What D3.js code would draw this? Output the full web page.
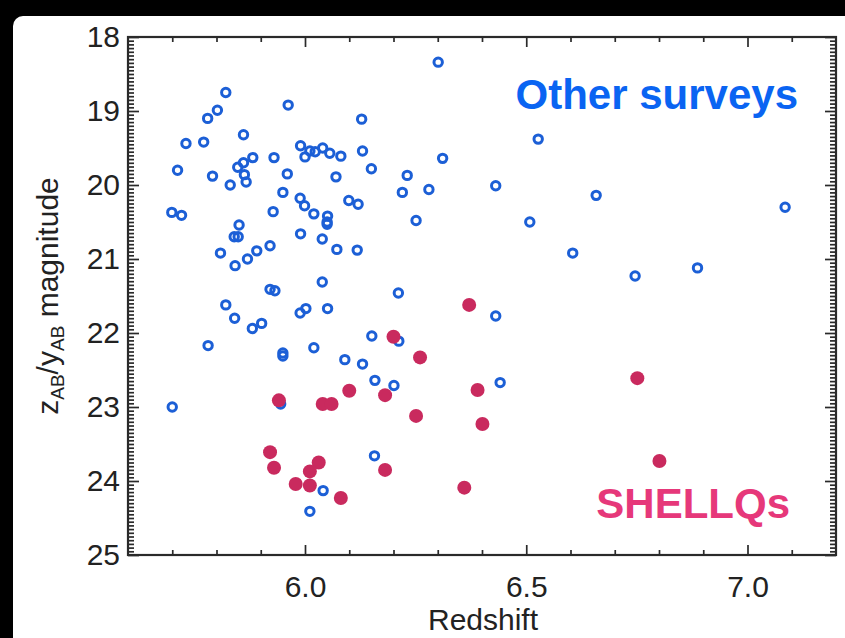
<!DOCTYPE html>
<html>
<head>
<meta charset="utf-8">
<script src="https://cdn.jsdelivr.net/npm/d3@7"></script>
<style>
  html, body { margin: 0; padding: 0; background: #000; }
  svg { display: block; }
  text { font-family: "Liberation Sans", Arial, Helvetica, sans-serif; }
</style>
</head>
<body>
<div id="chart"></div>
<script>
// quasars found by other surveys: [redshift, z/y AB magnitude]
const otherSurveys = [
  [5.821, 18.75], [5.962, 18.92], [5.802, 18.99], [5.780, 19.10], [6.128, 19.11],
  [5.861, 19.32], [5.731, 19.44], [5.771, 19.42], [5.990, 19.47], [6.000, 19.62],
  [6.011, 19.54], [6.023, 19.55], [6.040, 19.50], [6.056, 19.57], [6.081, 19.61],
  [6.130, 19.54], [5.882, 19.63], [5.930, 19.63], [5.861, 19.70], [5.848, 19.76],
  [5.712, 19.80], [6.150, 19.78], [5.863, 19.86], [5.960, 19.85], [5.791, 19.88],
  [6.070, 19.89], [5.867, 19.96], [5.831, 20.00], [5.950, 20.10], [5.989, 20.18],
  [6.099, 20.21], [6.120, 20.26], [5.999, 20.28], [5.699, 20.37], [5.721, 20.41],
  [5.928, 20.36], [6.020, 20.39], [6.051, 20.42], [6.050, 20.50], [6.050, 20.53],
  [5.851, 20.54], [5.840, 20.70], [5.849, 20.70], [5.990, 20.66], [6.039, 20.73],
  [5.809, 20.92], [5.921, 20.82], [5.891, 20.89], [5.870, 21.00], [5.842, 21.09],
  [6.072, 20.87], [6.118, 20.88], [6.039, 21.31], [5.921, 21.41], [5.932, 21.43],
  [5.821, 21.62], [5.841, 21.80], [5.881, 21.94], [5.902, 21.87], [5.989, 21.73],
  [6.002, 21.67], [6.051, 21.67], [5.781, 22.17], [5.950, 22.27], [5.950, 22.31],
  [6.020, 22.20], [6.151, 22.04], [6.090, 22.36], [6.130, 22.42], [6.158, 22.64],
  [5.700, 23.00], [5.945, 22.96], [6.157, 23.66], [6.041, 24.13], [6.011, 24.41],
  [6.605, 20.92], [6.746, 21.23], [6.887, 21.12], [6.211, 21.46], [6.431, 21.77],
  [6.212, 22.11], [6.201, 22.71], [6.441, 22.67], [6.301, 18.34], [6.527, 19.38],
  [6.311, 19.64], [6.231, 19.87], [6.220, 20.10], [6.280, 20.06], [6.431, 20.01],
  [6.658, 20.14], [7.085, 20.30], [6.251, 20.48], [6.508, 20.50]
];

// SHELLQs quasars: [redshift, z/y AB magnitude]
const shellqs = [
  [5.941, 22.91], [6.040, 22.96], [6.060, 22.96], [6.100, 22.78], [5.921, 23.61],
  [5.930, 23.82], [6.031, 23.75], [6.011, 23.87], [5.979, 24.04], [6.011, 24.06],
  [6.081, 24.23], [6.200, 22.05], [6.181, 22.84], [6.260, 22.33], [6.371, 21.62],
  [6.251, 23.12], [6.390, 22.77], [6.401, 23.23], [6.181, 23.85], [6.360, 24.09],
  [6.751, 22.61], [6.801, 23.73]
];

const xMajor = [6.0, 6.5, 7.0];
const xMinor = [5.7, 5.8, 5.9, 6.1, 6.2, 6.3, 6.4, 6.6, 6.7, 6.8, 6.9, 7.1];
const yMajor = [18, 19, 20, 21, 22, 23, 24, 25];

const width = 845, height = 638;
const box = { left: 128, right: 836, top: 37, bottom: 555 };

const svg = d3.select("#chart").append("svg")
  .attr("width", width)
  .attr("height", height);

svg.append("rect")
  .attr("x", 13).attr("y", 16)
  .attr("width", width).attr("height", height)
  .attr("rx", 10)
  .attr("fill", "#fff");

const x = d3.scaleLinear().domain([5.6, 7.2]).range([box.left, box.right]);
const y = d3.scaleLinear().domain([18, 25]).range([box.top, box.bottom]);

const yMinor = d3.range(18, 25.001, 0.05).filter(v => Math.abs(v - Math.round(v)) > 0.01);

function styleAxis(g) {
  g.select(".domain").remove();
  g.selectAll(".tick line").attr("stroke", "#2a2a2a").attr("stroke-width", 1.7);
  g.selectAll(".tick text")
    .attr("fill", "#222")
    .style("font-size", "30px");
}

// bottom axis
svg.append("g")
  .attr("transform", `translate(0,${box.bottom})`)
  .call(d3.axisBottom(x).tickValues(xMajor).tickSize(-10).tickPadding(21)
    .tickFormat(d3.format(".1f")))
  .call(styleAxis);
svg.append("g")
  .attr("transform", `translate(0,${box.bottom})`)
  .call(d3.axisBottom(x).tickValues(xMinor).tickSize(-5).tickFormat(""))
  .call(styleAxis);

// top axis
svg.append("g")
  .attr("transform", `translate(0,${box.top})`)
  .call(d3.axisTop(x).tickValues(xMajor).tickSize(-10).tickFormat(""))
  .call(styleAxis);
svg.append("g")
  .attr("transform", `translate(0,${box.top})`)
  .call(d3.axisTop(x).tickValues(xMinor).tickSize(-5).tickFormat(""))
  .call(styleAxis);

// left axis
svg.append("g")
  .attr("transform", `translate(${box.left},0)`)
  .call(d3.axisLeft(y).tickValues(yMajor).tickSize(-11).tickPadding(8)
    .tickFormat(d3.format("d")))
  .call(styleAxis);
svg.append("g")
  .attr("transform", `translate(${box.left},0)`)
  .call(d3.axisLeft(y).tickValues(yMinor).tickSize(-6).tickFormat(""))
  .call(styleAxis);

// right axis
svg.append("g")
  .attr("transform", `translate(${box.right},0)`)
  .call(d3.axisRight(y).tickValues(yMajor).tickSize(-11).tickFormat(""))
  .call(styleAxis);
svg.append("g")
  .attr("transform", `translate(${box.right},0)`)
  .call(d3.axisRight(y).tickValues(yMinor).tickSize(-6).tickFormat(""))
  .call(styleAxis);

// frame
svg.append("rect")
  .attr("x", box.left).attr("y", box.top)
  .attr("width", box.right - box.left).attr("height", box.bottom - box.top)
  .attr("fill", "none")
  .attr("stroke", "#2a2a2a")
  .attr("stroke-width", 2.2);

// other surveys: open circles
svg.append("g").selectAll("circle")
  .data(otherSurveys)
  .join("circle")
  .attr("cx", d => x(d[0]))
  .attr("cy", d => y(d[1]))
  .attr("r", 4.2)
  .attr("fill", "none")
  .attr("stroke", "#1c5fd6")
  .attr("stroke-width", 3);

// SHELLQs: filled dots
svg.append("g").selectAll("circle")
  .data(shellqs)
  .join("circle")
  .attr("cx", d => x(d[0]))
  .attr("cy", d => y(d[1]))
  .attr("r", 7)
  .attr("fill", "#c92a5e");

// labels
svg.append("text")
  .attr("x", 798).attr("y", 109)
  .attr("text-anchor", "end")
  .attr("fill", "#0a64f2")
  .style("font-size", "42px")
  .style("font-weight", "bold")
  .text("Other surveys");

svg.append("text")
  .attr("x", 790).attr("y", 518)
  .attr("text-anchor", "end")
  .attr("fill", "#e6387a")
  .style("font-size", "42px")
  .style("font-weight", "bold")
  .text("SHELLQs");

svg.append("text")
  .attr("x", (box.left + box.right) / 2 + 1).attr("y", 630)
  .attr("text-anchor", "middle")
  .attr("fill", "#222")
  .style("font-size", "30px")
  .text("Redshift");

const yLabel = svg.append("text")
  .attr("transform", `translate(58,${(box.top + box.bottom) / 2}) rotate(-90)`)
  .attr("text-anchor", "middle")
  .attr("fill", "#222")
  .style("font-size", "30px");
yLabel.append("tspan").text("z");
yLabel.append("tspan").attr("dy", 6).style("font-size", "19px").text("AB");
yLabel.append("tspan").attr("dy", -6).text("/y");
yLabel.append("tspan").attr("dy", 6).style("font-size", "19px").text("AB");
yLabel.append("tspan").attr("dy", -6).text(" magnitude");
</script>
</body>
</html>
